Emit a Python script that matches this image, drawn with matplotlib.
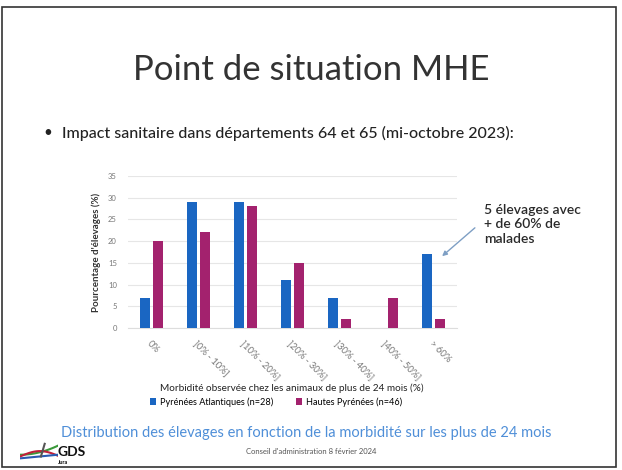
import numpy as np
import matplotlib.pyplot as plt
from matplotlib.patches import Rectangle

categories = ["0%", "]0% - 10%]", "]10% - 20%]", "]20% - 30%]", "]30% - 40%]", "]40% - 50%]", "> 60%"]
pyr_atl = [7, 29, 29, 11, 7, 0, 17]
htes_pyr = [20, 22, 28, 15, 2, 7, 2]
yticks = [0, 5, 10, 15, 20, 25, 30, 35]

blue = "#1a66c2"
magenta = "#a3226e"

plt.rcParams["font.family"] = ["Lato", "DejaVu Sans"]

W, H = 622, 470
fig = plt.figure(figsize=(W / 100, H / 100), dpi=100)


def px(x, y):
    return x / W, 1 - y / H


# slide frame (scan)
fig.patches.append(Rectangle((2 / W, 3 / H), 614 / W, 460 / H, transform=fig.transFigure,
                             fill=False, edgecolor="#333333", lw=1.2))

fig.text(*px(311, 70), "Point de situation MHE", ha="center", va="center",
         fontsize=25, color="#333333")
fig.text(*px(43, 133), "\u2022", ha="left", va="center", fontsize=11, color="#222222")
fig.text(*px(62, 133), "Impact sanitaire dans départements 64 et 65 (mi-octobre 2023):",
         ha="left", va="center", fontsize=11.5, color="#222222", fontweight="medium")

ax = fig.add_axes([128 / W, 1 - 328 / H, 329 / W, 152 / H])
x = np.arange(len(categories))
w = 0.21
ax.bar(x - 0.14, pyr_atl, w, color=blue, label="Pyrénées Atlantiques (n=28)", zorder=3)
ax.bar(x + 0.14, htes_pyr, w, color=magenta, label="Hautes Pyrénées (n=46)", zorder=3)
ax.set_xlim(-0.5, len(categories) - 0.5)
ax.set_ylim(0, 35)
ax.set_yticks(yticks)
ax.set_yticklabels([str(v) for v in yticks], fontsize=5.5, color="#777777")
ax.set_xticks(x)
ax.set_xticklabels(categories, rotation=-45, ha="left", va="top", fontsize=6.8,
                   color="#777777", rotation_mode="anchor")
ax.tick_params(axis="x", length=0, pad=8)
ax.tick_params(axis="y", length=0, pad=8)
ax.grid(axis="y", color="#e6e6e6", lw=0.8, zorder=0)
for s in ["top", "right", "left"]:
    ax.spines[s].set_visible(False)
ax.spines["bottom"].set_color("#dddddd")
ax.set_ylabel("Pourcentage d'élevages (%)", fontsize=7, color="#333333",
              fontweight="bold", labelpad=5)

fig.text(*px(292, 388), "Morbidité observée chez les animaux de plus de 24 mois (%)",
         ha="center", va="center", fontsize=7.2, color="#222222")
hs, ls = ax.get_legend_handles_labels()
fig.legend(hs, ls, loc="center", bbox_to_anchor=px(276, 402), ncol=2, frameon=False,
           fontsize=6.6, handlelength=0.7, handleheight=0.7, columnspacing=2.5,
           handletextpad=0.4)

# annotation
fig.text(*px(484, 204), "5 élevages avec\n+ de 60% de\nmalades", ha="left", va="top",
         fontsize=10, color="#2a2a2a", fontweight="semibold", linespacing=1.25)
ax.annotate("", xy=px(440, 258), xycoords="figure fraction",
            xytext=px(477, 226), textcoords="figure fraction",
            arrowprops=dict(arrowstyle="-|>", color="#7e9fc4", lw=1, mutation_scale=7))

fig.text(*px(306, 433), "Distribution des élevages en fonction de la morbidité sur les plus de 24 mois",
         ha="center", va="center", fontsize=10.5, color="#4f8fd8")
fig.text(*px(311, 452), "Conseil d'administration 8 février 2024", ha="center", va="center",
         fontsize=5.5, color="#555555")

# GDS logo
fig.text(*px(58, 452), "GDS", ha="left", va="center", fontsize=10, fontweight="bold", color="#111111")
fig.text(*px(58, 462), "Jura", ha="left", va="center", fontsize=4, fontweight="bold", color="#111111")
lg = fig.add_axes([20 / W, 1 - 462 / H, 38 / W, 20 / H])
t = np.linspace(0, 1, 20)
lg.plot(t, 0.4 + 0.5 * t ** 2, color="#3a9a3a", lw=1.5)
lg.plot(t, 0.3 + 0.3 * np.sin(3 * t), color="#c0203a", lw=1.5)
lg.plot(t, 0.2 + 0.2 * t, color="#2a5ab0", lw=1.5)
lg.plot([0.55, 0.65], [0.3, 1.0], color="#555555", lw=1.5)
lg.set_xlim(0, 1)
lg.set_ylim(0, 1.1)
lg.axis("off")

fig.savefig("out.png", dpi=100)
